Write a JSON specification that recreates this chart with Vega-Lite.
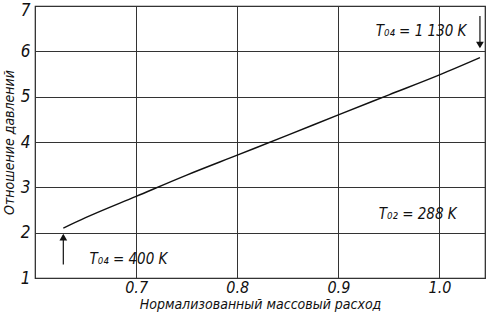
{
  "$schema": "https://vega.github.io/schema/vega-lite/v6.json",
  "width": 450,
  "height": 272,
  "autosize": "none",
  "padding": {"left": 35, "top": 6, "right": 4, "bottom": 36},
  "background": "white",
  "config": {
    "view": {"stroke": "#222", "strokeWidth": 1.2},
    "font": "DejaVu Sans Condensed"
  },
  "datasets": {
    "curve": [
      {"x": 0.628, "y": 2.1},
      {"x": 0.65, "y": 2.33},
      {"x": 0.7, "y": 2.8},
      {"x": 0.75, "y": 3.27},
      {"x": 0.8, "y": 3.71},
      {"x": 0.85, "y": 4.15},
      {"x": 0.9, "y": 4.6},
      {"x": 0.95, "y": 5.04},
      {"x": 1.0, "y": 5.48},
      {"x": 1.04, "y": 5.86}
    ],
    "arrows": [
      {"x": 0.628, "y": 1.3, "y2": 1.95, "tip": 1.9, "dir": "up"},
      {"x": 1.04, "y": 6.78, "y2": 6.1, "tip": 6.14, "dir": "down"}
    ],
    "notes": [
      {"x": 0.654, "y": 1.42, "t": "T₀₄ = 400 K"},
      {"x": 0.937, "y": 6.45, "t": "T₀₄ = 1 130 K"},
      {"x": 0.94, "y": 2.42, "t": "T₀₂ = 288 K"}
    ]
  },
  "layer": [
    {
      "data": {"name": "curve"},
      "mark": {"type": "line", "color": "#111", "strokeWidth": 1.4, "interpolate": "monotone"},
      "encoding": {
        "x": {
          "field": "x", "type": "quantitative",
          "scale": {"domain": [0.6, 1.045], "nice": false, "zero": false},
          "axis": {
            "values": [0.7, 0.8, 0.9, 1.0], "format": ".1f",
            "title": "Нормализованный массовый расход",
            "titleFont": "DejaVu Sans Condensed", "titleFontStyle": "italic", "titleFontWeight": "normal",
            "titleFontSize": 14, "titleColor": "#111", "titlePadding": 2,
            "labelFont": "DejaVu Sans Condensed", "labelFontStyle": "italic", "labelFontSize": 16, "labelColor": "#111",
            "labelPadding": 1,
            "grid": true, "gridColor": "#333", "gridWidth": 1, "gridOpacity": 1,
            "ticks": false, "domain": false
          }
        },
        "y": {
          "field": "y", "type": "quantitative",
          "scale": {"domain": [1, 7], "nice": false, "zero": false},
          "axis": {
            "values": [1, 2, 3, 4, 5, 6, 7],
            "title": "Отношение давлений",
            "titleFont": "DejaVu Sans Condensed", "titleFontStyle": "italic", "titleFontWeight": "normal",
            "titleFontSize": 14, "titleColor": "#111", "titlePadding": 4,
            "labelFont": "DejaVu Sans Condensed", "labelFontStyle": "italic", "labelFontSize": 17, "labelColor": "#111",
            "labelPadding": 5,
            "labelOffset": {"condition": {"test": "datum.value == 7", "value": 4}, "value": 0},
            "grid": true, "gridColor": "#333", "gridWidth": 1, "gridOpacity": 1,
            "ticks": false, "domain": false
          }
        }
      }
    },
    {
      "data": {"name": "arrows"},
      "mark": {"type": "rule", "color": "#111", "strokeWidth": 1.2},
      "encoding": {
        "x": {"field": "x", "type": "quantitative"},
        "y": {"field": "y", "type": "quantitative"},
        "y2": {"field": "y2"}
      }
    },
    {
      "data": {"name": "arrows"},
      "mark": {"type": "point", "filled": true, "color": "#111", "size": 60, "opacity": 1},
      "encoding": {
        "x": {"field": "x", "type": "quantitative"},
        "y": {"field": "tip", "type": "quantitative"},
        "shape": {"field": "dir", "type": "nominal", "scale": {"domain": ["up", "down"], "range": ["triangle-up", "triangle-down"]}, "legend": null}
      }
    },
    {
      "data": {"name": "notes"},
      "mark": {"type": "text", "align": "left", "baseline": "middle", "font": "DejaVu Sans Condensed", "fontStyle": "italic", "fontSize": 15, "color": "#111"},
      "encoding": {
        "x": {"field": "x", "type": "quantitative"},
        "y": {"field": "y", "type": "quantitative"},
        "text": {"field": "t"}
      }
    }
  ]
}
